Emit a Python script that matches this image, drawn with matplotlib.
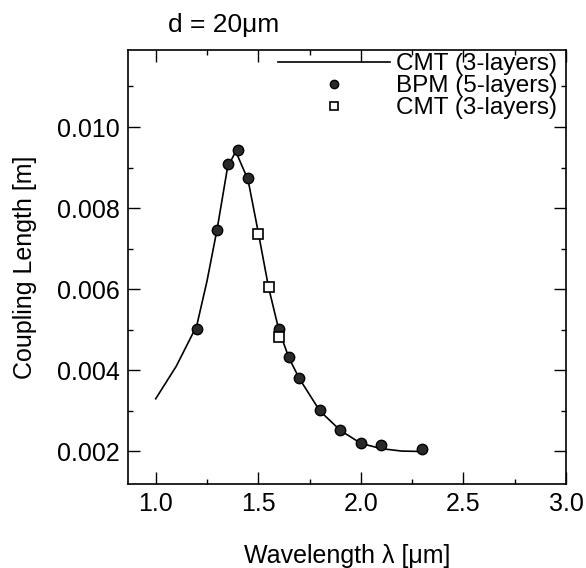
import matplotlib
matplotlib.use("Agg")
from matplotlib import pyplot as plt
from matplotlib.ticker import MultipleLocator, FormatStrFormatter

plt.rcParams["font.family"] = ["Liberation Sans", "DejaVu Sans"]

# CMT (3-layers) curve
cmt_wl = [1.0, 1.1, 1.15, 1.2, 1.25, 1.3, 1.35, 1.39, 1.45, 1.5, 1.55, 1.6, 1.65, 1.7, 1.8, 1.9, 2.0, 2.1, 2.2, 2.3]
cmt_len = [0.0033, 0.0041, 0.0046, 0.0051, 0.0062, 0.0075, 0.0090, 0.0094, 0.0087, 0.0074, 0.00605, 0.0050, 0.0043, 0.0038, 0.0030, 0.00252, 0.0022, 0.00207, 0.00201, 0.00200]

# BPM (5-layers) points
bpm_wl = [1.2, 1.3, 1.35, 1.4, 1.45, 1.6, 1.65, 1.7, 1.8, 1.9, 2.0, 2.1, 2.3]
bpm_len = [0.00502, 0.00745, 0.00909, 0.00944, 0.00875, 0.00502, 0.00433, 0.00382, 0.00303, 0.00254, 0.0022, 0.00215, 0.00207]

# CMT (3-layers) squares
sq_wl = [1.5, 1.55, 1.6]
sq_len = [0.00737, 0.00605, 0.00482]

fig = plt.figure(figsize=(5.86, 5.68), dpi=100)
ax = fig.add_axes([0.2184, 0.148, 0.7476, 0.764])

ax.plot(cmt_wl, cmt_len, color="black", lw=1.2, label="CMT (3-layers)")
ax.plot(bpm_wl, bpm_len, ls="none", marker="o", ms=7.5, mfc="#2a2a2a", mec="black", mew=1.0, label="BPM (5-layers)")
ax.plot(sq_wl, sq_len, ls="none", marker="s", ms=6.5, mfc="white", mec="black", mew=1.2, label="CMT (3-layers)")

ax.set_xlim(0.865, 3.0)
ax.set_ylim(0.0012, 0.0119)
ax.xaxis.set_major_locator(MultipleLocator(0.5))
ax.xaxis.set_minor_locator(MultipleLocator(0.25))
ax.yaxis.set_major_locator(MultipleLocator(0.002))
ax.yaxis.set_minor_locator(MultipleLocator(0.001))
ax.yaxis.set_major_formatter(FormatStrFormatter("%.3f"))
ax.xaxis.set_major_formatter(FormatStrFormatter("%.1f"))
ax.tick_params(which="both", direction="in", top=True, right=True, labelsize=18, width=1.0)
ax.tick_params(which="major", length=8.5, pad=6)
ax.tick_params(which="minor", length=3.6)
for s in ax.spines.values():
    s.set_linewidth(1.2)

ax.set_xlabel("Wavelength λ [μm]", fontsize=18, labelpad=20)
ax.set_ylabel("Coupling Length [m]", fontsize=18, labelpad=14)
fig.text(168 / 586, 1 - 25 / 568, "d = 20μm", fontsize=19, ha="left", va="center")

leg = ax.legend(loc="upper right", bbox_to_anchor=(557 / 586, 1 - 53 / 568), bbox_transform=fig.transFigure,
                frameon=False, fontsize=17.5, handlelength=4.6, borderpad=0, borderaxespad=0,
                labelspacing=0.0, handletextpad=0.25, markerscale=0.8)

plt.savefig("out.png")
